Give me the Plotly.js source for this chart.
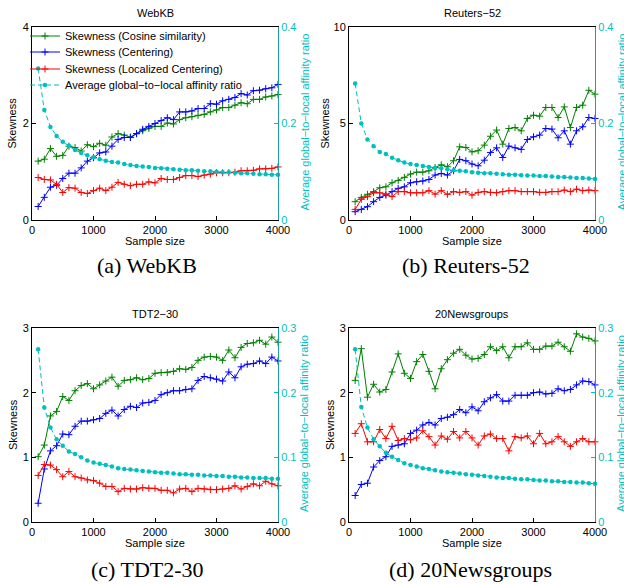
<!DOCTYPE html>
<html>
<head>
<meta charset="utf-8">
<script src="https://cdn.plot.ly/plotly-3.0.1.min.js"></script>
<style>html,body{margin:0;padding:0;background:#fff;}#chart{width:624px;height:584px;}</style>
</head>
<body>
<div id="chart"></div>
<script>
// Sample sizes (x values)
const sampleSizes = [100,200,300,400,500,600,700,800,900,1000,1100,1200,1300,1400,1500,1600,1700,1800,1900,2000,
  2100,2200,2300,2400,2500,2600,2700,2800,2900,3000,3100,3200,3300,3400,3500,3600,3700,3800,3900,4000];

const seriesNames = ['Skewness (Cosine similarity)','Skewness (Centering)','Skewness (Localized Centering)','Average global\u2212to\u2212local affinity ratio'];
const panelTitles = ['WebKB','Reuters\u221252','TDT2\u221230','20Newsgroups'];
const captions = ['(a) WebKB','(b) Reuters-52','(c) TDT2-30','(d) 20Newsgroups'];
const xTicks = [0,1000,2000,3000,4000];

// (a) WebKB
const webkbCosine = [1.22,1.26,1.48,1.32,1.34,1.53,1.50,1.43,1.56,1.52,1.59,1.55,1.72,1.79,1.76,1.72,1.79,1.85,1.90,1.94,
  1.94,2.01,1.99,2.08,2.12,2.14,2.17,2.19,2.24,2.28,2.33,2.33,2.38,2.43,2.41,2.50,2.50,2.55,2.57,2.60];
const webkbCentering = [0.28,0.47,0.68,0.72,0.86,0.97,0.97,1.08,1.22,1.29,1.39,1.41,1.53,1.67,1.71,1.71,1.79,1.88,1.94,2.00,
  2.06,2.12,2.08,2.24,2.24,2.26,2.31,2.31,2.41,2.40,2.47,2.50,2.54,2.62,2.59,2.68,2.69,2.72,2.74,2.81];
const webkbLocalized = [0.88,0.84,0.83,0.74,0.57,0.67,0.66,0.57,0.55,0.61,0.66,0.61,0.68,0.78,0.74,0.71,0.74,0.74,0.79,0.77,
  0.86,0.84,0.84,0.88,0.92,0.92,0.90,0.93,0.95,0.98,0.98,0.98,0.99,1.02,1.02,1.03,1.06,1.06,1.07,1.10];
const webkbRatio = [0.314,0.228,0.193,0.174,0.162,0.154,0.145,0.139,0.134,0.130,0.126,0.123,0.120,0.119,0.116,0.114,0.112,0.111,0.110,0.108,
  0.107,0.106,0.105,0.104,0.103,0.103,0.102,0.101,0.101,0.100,0.099,0.099,0.098,0.097,0.097,0.096,0.095,0.095,0.094,0.094];

// (b) Reuters-52
const reutersCosine = [0.95,1.17,1.33,1.47,1.67,1.72,1.93,2.05,2.21,2.38,2.48,2.48,2.55,2.72,2.86,2.76,3.07,3.79,3.76,3.53,
  3.59,3.88,4.34,4.66,3.93,4.74,4.79,4.62,5.26,5.43,5.38,5.83,5.83,5.31,5.86,4.79,5.83,5.95,6.72,6.52];
const reutersCentering = [0.43,0.55,0.69,0.95,1.17,1.29,1.47,1.64,1.72,1.93,1.98,2.02,2.10,2.33,2.41,2.33,2.55,3.14,3.07,2.90,
  2.81,3.10,3.50,3.74,3.24,3.83,3.74,3.66,4.17,4.31,4.40,4.74,4.71,4.26,4.62,3.93,4.62,4.83,5.31,5.26];
const reutersLocalized = [0.55,1.07,1.21,1.41,1.41,1.34,1.21,1.47,1.47,1.41,1.41,1.41,1.52,1.34,1.52,1.33,1.47,1.43,1.47,1.29,
  1.43,1.47,1.43,1.41,1.47,1.52,1.52,1.47,1.47,1.47,1.43,1.43,1.47,1.47,1.55,1.47,1.60,1.52,1.55,1.52];
const reutersRatio = [0.283,0.200,0.167,0.153,0.141,0.137,0.129,0.124,0.119,0.116,0.114,0.112,0.110,0.108,0.107,0.105,0.103,0.102,0.101,0.099,
  0.098,0.097,0.097,0.096,0.095,0.094,0.094,0.093,0.092,0.092,0.091,0.091,0.090,0.089,0.089,0.088,0.087,0.087,0.086,0.085];

// (c) TDT2-30
const tdtCosine = [1.01,1.19,1.64,1.71,1.94,1.88,2.03,2.11,2.14,2.06,2.12,2.18,2.24,2.10,2.19,2.20,2.23,2.20,2.22,2.30,
  2.31,2.31,2.33,2.37,2.36,2.39,2.50,2.55,2.56,2.55,2.50,2.66,2.54,2.70,2.76,2.77,2.81,2.75,2.86,2.78];
const tdtCentering = [0.29,0.82,1.10,1.18,1.36,1.35,1.48,1.56,1.56,1.58,1.60,1.68,1.73,1.64,1.74,1.79,1.77,1.84,1.85,1.88,
  1.97,2.00,2.03,2.03,2.05,2.06,2.19,2.25,2.23,2.21,2.18,2.32,2.23,2.40,2.44,2.45,2.49,2.45,2.55,2.49];
const tdtLocalized = [0.72,0.89,0.88,0.81,0.70,0.78,0.70,0.68,0.65,0.64,0.60,0.55,0.55,0.47,0.52,0.51,0.51,0.53,0.52,0.52,
  0.49,0.49,0.45,0.51,0.52,0.47,0.52,0.51,0.50,0.50,0.51,0.52,0.56,0.51,0.55,0.59,0.56,0.63,0.59,0.56];
const tdtRatio = [0.267,0.177,0.146,0.128,0.118,0.109,0.105,0.100,0.095,0.092,0.090,0.088,0.086,0.083,0.082,0.081,0.080,0.079,0.078,0.077,
  0.076,0.076,0.075,0.074,0.074,0.073,0.073,0.072,0.072,0.071,0.071,0.070,0.070,0.069,0.069,0.068,0.068,0.068,0.067,0.067];

// (d) 20Newsgroups
const ngCosine = [2.19,2.68,1.93,2.13,2.01,2.05,2.32,2.60,2.30,2.22,2.48,2.59,2.33,2.06,2.37,2.51,2.61,2.67,2.58,2.52,
  2.53,2.59,2.71,2.65,2.71,2.54,2.71,2.71,2.77,2.67,2.67,2.72,2.72,2.78,2.71,2.64,2.91,2.86,2.84,2.80];
const ngCentering = [0.41,0.58,0.60,0.85,0.95,1.01,1.17,1.19,1.21,1.37,1.42,1.50,1.54,1.50,1.60,1.62,1.66,1.74,1.69,1.78,
  1.72,1.86,1.92,1.97,1.87,1.87,1.96,1.96,1.96,2.00,2.01,1.98,1.99,2.06,2.03,2.05,2.12,2.18,2.17,2.12];
const ngLocalized = [1.37,1.52,1.24,1.24,1.43,1.29,1.48,1.26,1.29,1.27,1.30,1.41,1.32,1.19,1.33,1.28,1.40,1.30,1.40,1.30,
  1.19,1.33,1.36,1.29,1.29,1.10,1.32,1.30,1.33,1.21,1.37,1.21,1.24,1.32,1.24,1.17,1.24,1.29,1.24,1.24];
const ngRatio = [0.267,0.178,0.146,0.128,0.117,0.107,0.101,0.096,0.091,0.088,0.086,0.083,0.082,0.080,0.078,0.077,0.076,0.075,0.074,0.073,
  0.072,0.071,0.070,0.069,0.068,0.068,0.067,0.066,0.066,0.065,0.064,0.064,0.063,0.063,0.062,0.062,0.061,0.061,0.060,0.059];

// Axis settings per panel
const leftRanges = [[0,4],[0,10],[0,3],[0,3]];
const leftDticks = [2,5,1,1];
const rightRanges = [[0,0.4],[0,0.4],[0,0.3],[0,0.3]];
const rightDticks = [0.2,0.2,0.1,0.1];

const panels = [
  [webkbCosine, webkbCentering, webkbLocalized, webkbRatio],
  [reutersCosine, reutersCentering, reutersLocalized, reutersRatio],
  [tdtCosine, tdtCentering, tdtLocalized, tdtRatio],
  [ngCosine, ngCentering, ngLocalized, ngRatio]
];

// ---------- styling / layout ----------
const W = 624, H = 584;
const FONT = 'Liberation Sans, Arial, Helvetica, sans-serif';
const GREEN = '#008000', BLUE = '#0000ff', RED = '#ff0000', CYAN = '#00bfbf';
const lineColors = [GREEN, BLUE, RED];
// plot boxes in pixels [left, right, top, bottom]
const boxes = [[32,278,27,220],[349,595,27,220],[32,278,328,522],[349,595,328,522]];
const legendIds = ['legend','legend2','legend3','legend4'];

const traces = [];
const layout = {
  width: W, height: H,
  margin: {l:0, r:0, t:0, b:0},
  paper_bgcolor: '#ffffff', plot_bgcolor: 'rgba(0,0,0,0)',
  font: {family: FONT, size: 11, color: '#000'},
  annotations: [],
  showlegend: true
};

panels.forEach((p, i) => {
  const xa = i === 0 ? 'x' : 'x' + (i + 1);
  const yl = i === 0 ? 'y' : 'y' + (2 * i + 1);
  const yr = 'y' + (2 * i + 2);
  for (let k = 0; k < 3; k++) {
    traces.push({
      x: sampleSizes, y: p[k], xaxis: xa, yaxis: yl, type: 'scatter', mode: 'lines+markers',
      name: seriesNames[k], showlegend: i === 0, legend: legendIds[k], cliponaxis: false,
      line: {color: lineColors[k], width: 1},
      marker: {symbol: 'cross-thin-open', size: 5, color: lineColors[k], line: {color: lineColors[k], width: 1}}
    });
  }
  traces.push({
    x: sampleSizes, y: p[3], xaxis: xa, yaxis: yr, type: 'scatter', mode: 'lines+markers',
    name: seriesNames[3], showlegend: i === 0, legend: legendIds[3], cliponaxis: false,
    line: {color: CYAN, width: 1, dash: '5px,3px'},
    marker: {symbol: 'circle', size: 4.5, color: CYAN}
  });

  const b = boxes[i];
  const xd = [b[0] / W, b[1] / W];
  const yd = [1 - b[3] / H, 1 - b[2] / H];
  const xKey = i === 0 ? 'xaxis' : 'xaxis' + (i + 1);
  const ylKey = i === 0 ? 'yaxis' : 'yaxis' + (2 * i + 1);
  const yrKey = 'yaxis' + (2 * i + 2);
  layout[xKey] = {
    domain: xd, anchor: yl, range: [0, 4000], tickmode: 'array', tickvals: xTicks,
    showline: true, mirror: true, linecolor: '#000', linewidth: 1,
    ticks: 'inside', ticklen: 4, tickcolor: '#000', showgrid: false, zeroline: false,
    tickfont: {family: FONT, size: 11, color: '#000'}
  };
  layout[ylKey] = {
    domain: yd, anchor: xa, range: leftRanges[i], dtick: leftDticks[i], tick0: 0,
    showline: true, linecolor: '#000', linewidth: 1,
    ticks: 'inside', ticklen: 4, tickcolor: '#000', showgrid: false, zeroline: false,
    tickfont: {family: FONT, size: 11, color: '#000'}
  };
  layout[yrKey] = {
    overlaying: yl, side: 'right', anchor: xa, range: rightRanges[i], dtick: rightDticks[i], tick0: 0,
    showline: true, linecolor: '#1f9c9c', linewidth: 1,
    ticks: 'inside', ticklen: 4, tickcolor: CYAN, showgrid: false, zeroline: false,
    tickfont: {family: FONT, size: 11, color: CYAN}
  };

  const cx = (b[0] + b[1]) / 2;
  const cy = (b[2] + b[3]) / 2;
  // panel title
  layout.annotations.push({xref:'paper', yref:'paper', x: cx / W, y: 1 - (b[2] - 14) / H,
    text: panelTitles[i], showarrow: false, xanchor: 'center', yanchor: 'middle',
    font: {family: FONT, size: 11, color: '#000'}});
  // x axis title
  layout.annotations.push({xref:'paper', yref:'paper', x: cx / W, y: 1 - (b[3] + 21) / H,
    text: 'Sample size', showarrow: false, xanchor: 'center', yanchor: 'middle',
    font: {family: FONT, size: 11, color: '#000'}});
  // left y title
  const lx = [12, 325, 13, 330][i];
  layout.annotations.push({xref:'paper', yref:'paper', x: lx / W, y: 1 - cy / H,
    text: 'Skewness', showarrow: false, textangle: -90, xanchor: 'center', yanchor: 'middle',
    font: {family: FONT, size: 11, color: '#000'}});
  // right y title
  const rx = b[1] + 26;
  layout.annotations.push({xref:'paper', yref:'paper', x: rx / W, y: 1 - (cy - 1) / H,
    text: seriesNames[3], showarrow: false, textangle: -90, xanchor: 'center', yanchor: 'middle',
    font: {family: FONT, size: 11, color: CYAN}});
  // caption
  const capX = [147, 466, 147, 470][i];
  const capY = [265, 265, 569, 569][i];
  layout.annotations.push({xref:'paper', yref:'paper', x: capX / W, y: 1 - capY / H,
    text: captions[i], showarrow: false, xanchor: 'center', yanchor: 'middle',
    font: {family: 'Liberation Serif, Times New Roman, serif', size: 22, color: '#000'}});
});

// legends (one entry each, stacked like the reference)
const legendY = [36, 52, 69, 85];
legendIds.forEach((id, k) => {
  layout[id] = {
    x: 25 / W, xanchor: 'left', y: 1 - legendY[k] / H, yanchor: 'middle',
    bgcolor: 'rgba(0,0,0,0)', borderwidth: 0,
    font: {family: FONT, size: 11, color: '#000'}
  };
});

Plotly.newPlot('chart', traces, layout, {displayModeBar: false, staticPlot: true});
</script>
</body>
</html>
